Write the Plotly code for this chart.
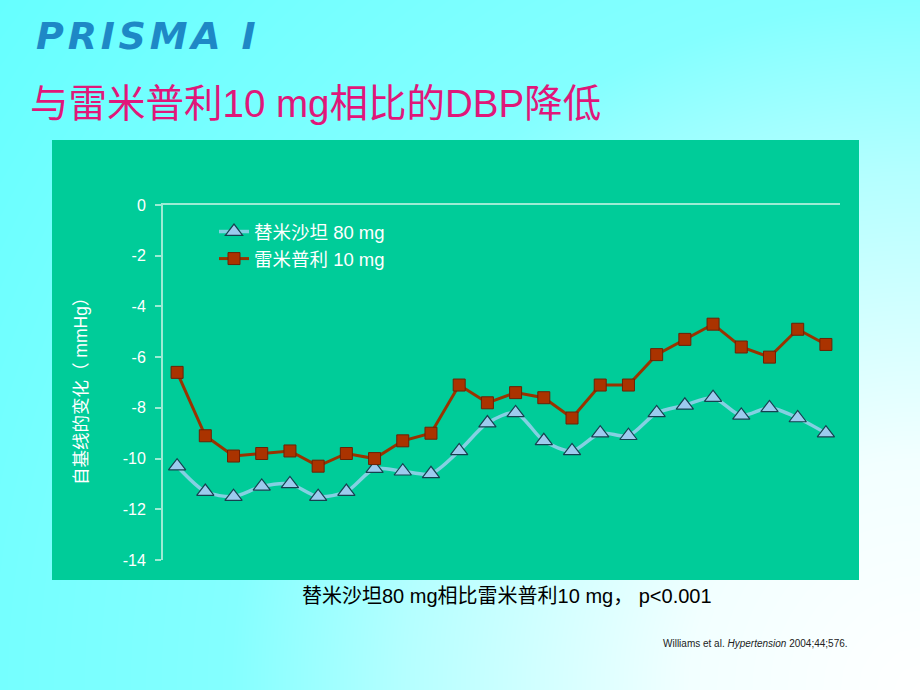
import numpy as np
import plotly.graph_objects as go

# ---------------- data ----------------
hours = list(range(1, 25))
telmisartan_80 = [-10.3, -11.3, -11.5, -11.1, -11.0, -11.5, -11.3, -10.4, -10.5, -10.6,
                  -9.7, -8.6, -8.2, -9.3, -9.7, -9.0, -9.1, -8.2, -7.9, -7.6,
                  -8.3, -8.0, -8.4, -9.0]
ramipril_10 = [-6.6, -9.1, -9.9, -9.8, -9.7, -10.3, -9.8, -10.0, -9.3, -9.0,
               -7.1, -7.8, -7.4, -7.6, -8.4, -7.1, -7.1, -5.9, -5.3, -4.7,
               -5.6, -6.0, -4.9, -5.5]
series_names = ["替米沙坦 80 mg", "雷米普利 10 mg"]
y_ticks = [0, -2, -4, -6, -8, -10, -12, -14]

title_main = "PRISMA I"
title_sub = "与雷米普利10 mg相比的DBP降低"
y_title = "自基线的变化（ mmHg）"
note_text = "替米沙坦80 mg相比雷米普利10 mg， p<0.001"
cite_text = "Williams et al. <i>Hypertension</i> 2004;44;576."

# ---------------- style ----------------
W, H = 920, 690
FONT = "Liberation Sans, Arial, Noto Sans CJK SC, sans-serif"
PANEL = "#00CC99"
AXIS_COL = "#9CEBD4"

# background gradient (decoration): white at bottom-right fading to cyan
gx = np.linspace(0, W, 47)
gy = np.linspace(0, H, 36)
GX, GY = np.meshgrid(gx, gy)
dist = np.sqrt((W - GX) ** 2 + (GY) ** 2) / 1150.0
bg_scale = [[0.0, "#FFFFFF"], [0.2, "#F2FFFF"], [0.45, "#B4FFFF"],
            [0.6, "#84FFFF"], [1.0, "#66FFFF"]]

# panel box in pixel coords (x from left, y from bottom)
px0, px1 = 52, 859
py0, py1 = H - 580, H - 140

# plot area
x_dom = [163 / W, 840 / W]
y_dom = [(H - 560) / H, (H - 205) / H]

fig = go.Figure()

fig.add_trace(go.Heatmap(
    x=gx, y=gy, z=dist, colorscale=bg_scale, zmin=0, zmax=1, zsmooth="best",
    showscale=False, hoverinfo="skip", xaxis="x", yaxis="y"))
fig.add_trace(go.Scatter(
    x=[px0, px1, px1, px0, px0], y=[py0, py0, py1, py1, py0],
    fill="toself", fillcolor=PANEL, mode="lines", line=dict(width=0),
    showlegend=False, hoverinfo="skip", xaxis="x", yaxis="y"))

fig.add_trace(go.Scatter(
    x=hours, y=telmisartan_80, name=series_names[0], mode="lines+markers",
    line=dict(color="#84D0E2", width=3.5, shape="spline", smoothing=0.8),
    marker=dict(symbol="triangle-up", size=15, color="#9CCBEE",
                line=dict(color="#16404F", width=1.2)),
    xaxis="x2", yaxis="y2"))
fig.add_trace(go.Scatter(
    x=hours, y=ramipril_10, name=series_names[1], mode="lines+markers",
    line=dict(color="#993300", width=3),
    marker=dict(symbol="square", size=12, color="#AA3300",
                line=dict(color="#6A2206", width=1)),
    xaxis="x2", yaxis="y2"))

fig.update_layout(
    width=W, height=H, autosize=False,
    margin=dict(l=0, r=0, t=0, b=0, pad=0, autoexpand=False),
    paper_bgcolor="#66FFFF", plot_bgcolor="rgba(0,0,0,0)",
    font=dict(family=FONT, color="white"),
    xaxis=dict(domain=[0, 1], range=[0, W], visible=False, fixedrange=True),
    yaxis=dict(domain=[0, 1], range=[0, H], visible=False, fixedrange=True),
    xaxis2=dict(domain=x_dom, range=[0.5, 24.5], anchor="y2", side="top",
                showline=True, linecolor=AXIS_COL, linewidth=2,
                showticklabels=False, ticks="", showgrid=False, zeroline=False),
    yaxis2=dict(domain=y_dom, range=[-14, 0], anchor="x2",
                tickvals=y_ticks, ticktext=[str(v) for v in y_ticks],
                showline=True, linecolor=AXIS_COL, linewidth=2,
                ticks="outside", ticklen=6, tickcolor=AXIS_COL, tickwidth=1.5,
                ticklabelstandoff=6,
                tickfont=dict(size=16, color="white", family=FONT),
                showgrid=False, zeroline=False),
    legend=dict(x=214 / W, y=(H - 213) / H, xanchor="left", yanchor="top",
                bgcolor="rgba(0,0,0,0)", font=dict(size=18.5, color="white", family=FONT),
                tracegroupgap=0, itemwidth=30),
    showlegend=True,
)

spaced_title = "\u200a".join(title_main)
ann = [
    dict(text=f"<b><i>{spaced_title}</i></b>", x=34, y=H - 36, xanchor="left", yanchor="middle",
         font=dict(size=38, color="#1E88C6", family="DejaVu Sans, sans-serif")),
    dict(text=title_sub, x=28, y=H - 103, xanchor="left", yanchor="middle",
         font=dict(size=38.5, color="#E0177A", family=FONT)),
    dict(text=y_title, x=81, y=H - 387, xanchor="center", yanchor="middle", textangle=-90,
         font=dict(size=17.5, color="white", family=FONT)),
    dict(text=note_text, x=300, y=H - 596, xanchor="left", yanchor="middle",
         font=dict(size=20, color="black", family=FONT)),
    dict(text=cite_text, x=850, y=H - 643, xanchor="right", yanchor="middle",
         font=dict(size=10, color="#222222", family=FONT)),
]
for a in ann:
    a.update(xref="x", yref="y", showarrow=False)
fig.update_layout(annotations=ann)

fig.write_html("out.html", config={"displayModeBar": False},
               post_script="document.body.style.margin='0';document.body.style.overflow='hidden';")
